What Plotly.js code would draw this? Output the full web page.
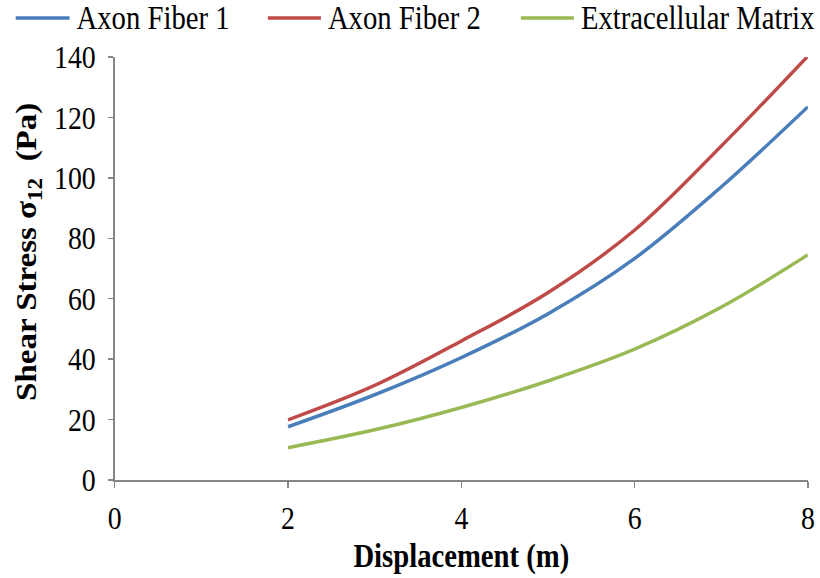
<!DOCTYPE html>
<html>
<head>
<meta charset="utf-8">
<script src="https://cdn.plot.ly/plotly-3.0.1.min.js"></script>
<style>
  html, body { margin: 0; padding: 0; background: #fff; overflow: hidden; }
  #frame { width: 820px; height: 578px; overflow: hidden; }
  /* the figure is laid out wider and then narrowed, giving the tall, condensed lettering */
  #chart { width: 943px; height: 578px; transform: scaleX(0.8696); transform-origin: 0 0; }
</style>
</head>
<body>
<div id="frame"><div id="chart"></div></div>
<script>
// Displacement (m)
const displacement = [2, 3, 4, 5, 6, 7, 8];
// Shear stress sigma_12 (Pa) per material
const axonFiber1 = [17.6, 28.2, 40.5, 55.0, 73.3, 97.0, 123.5];
const axonFiber2 = [19.9, 31.3, 46.0, 62.0, 82.7, 110.5, 140.3];
const extracellularMatrix = [10.7, 16.6, 24.0, 32.8, 43.3, 57.2, 74.5];

const seriesNames = ['Axon Fiber 1', 'Axon Fiber 2', 'Extracellular Matrix'];
const seriesColors = ['#4A7EBB', '#BE4B48', '#98B954'];
const seriesValues = [axonFiber1, axonFiber2, extracellularMatrix];

const traces = seriesValues.map((vals, i) => ({
  x: displacement,
  y: vals,
  name: seriesNames[i],
  type: 'scatter',
  mode: 'lines',
  showlegend: false,
  line: { color: seriesColors[i], width: 3.6, shape: 'spline', smoothing: 1 }
}));

const axisColor = '#868686';
const font = 'Liberation Serif';

// figure geometry (pixels, before the horizontal narrowing)
const W = 943, H = 578;
const M = { l: 132, r: 14, t: 57, b: 98 };
const plotW = W - M.l - M.r, plotH = H - M.t - M.b;
const px2paperX = px => (px - M.l) / plotW;
const px2paperY = py => (H - M.b - py) / plotH;

// legend row across the top: sample line + label for each series
const legendLine = [[18, 80], [308, 369], [599, 660]];
const legendText = [86, 375, 666];
const legendY = 18;

const shapes = seriesNames.map((n, i) => ({
  type: 'line', xref: 'paper', yref: 'paper',
  x0: px2paperX(legendLine[i][0]), x1: px2paperX(legendLine[i][1]),
  y0: px2paperY(legendY), y1: px2paperY(legendY),
  line: { color: seriesColors[i], width: 3.6 }
}));

const annotations = seriesNames.map((n, i) => ({
  text: n, xref: 'paper', yref: 'paper',
  x: px2paperX(legendText[i]), xanchor: 'left',
  y: px2paperY(legendY), yanchor: 'middle',
  showarrow: false,
  font: { family: font, size: 33, color: '#000' }
}));

// vertical axis title
annotations.push({
  text: '<b>Shear Stress σ<sub>12</sub>  (Pa)</b>',
  xref: 'paper', yref: 'paper',
  x: px2paperX(32), xanchor: 'center',
  y: px2paperY(252), yanchor: 'middle',
  textangle: -90,
  showarrow: false,
  font: { family: font, size: 33, color: '#000' }
});

const layout = {
  width: W,
  height: H,
  margin: { l: M.l, r: M.r, t: M.t, b: M.b, autoexpand: false },
  paper_bgcolor: '#fff',
  plot_bgcolor: '#fff',
  font: { family: font, color: '#000', size: 32 },
  showlegend: false,
  shapes: shapes,
  annotations: annotations,
  xaxis: {
    range: [0, 8],
    tickvals: [0, 2, 4, 6, 8],
    showgrid: false,
    zeroline: false,
    showline: true,
    linecolor: axisColor,
    linewidth: 1.5,
    ticks: 'outside',
    ticklen: 6,
    tickcolor: axisColor,
    tickwidth: 1.5,
    ticklabelstandoff: 3,
    tickfont: { family: font, size: 32 },
    title: { text: '<b>Displacement (m)</b>', font: { family: font, size: 33 }, standoff: 9 }
  },
  yaxis: {
    range: [0, 140],
    tickvals: [0, 20, 40, 60, 80, 100, 120, 140],
    showgrid: false,
    zeroline: false,
    showline: true,
    linecolor: axisColor,
    linewidth: 1.5,
    ticks: 'outside',
    ticklen: 6,
    tickcolor: axisColor,
    tickwidth: 1.5,
    ticklabelstandoff: 8,
    tickfont: { family: font, size: 32 }
  }
};

Plotly.newPlot('chart', traces, layout, { displayModeBar: false, staticPlot: true });
</script>
</body>
</html>
